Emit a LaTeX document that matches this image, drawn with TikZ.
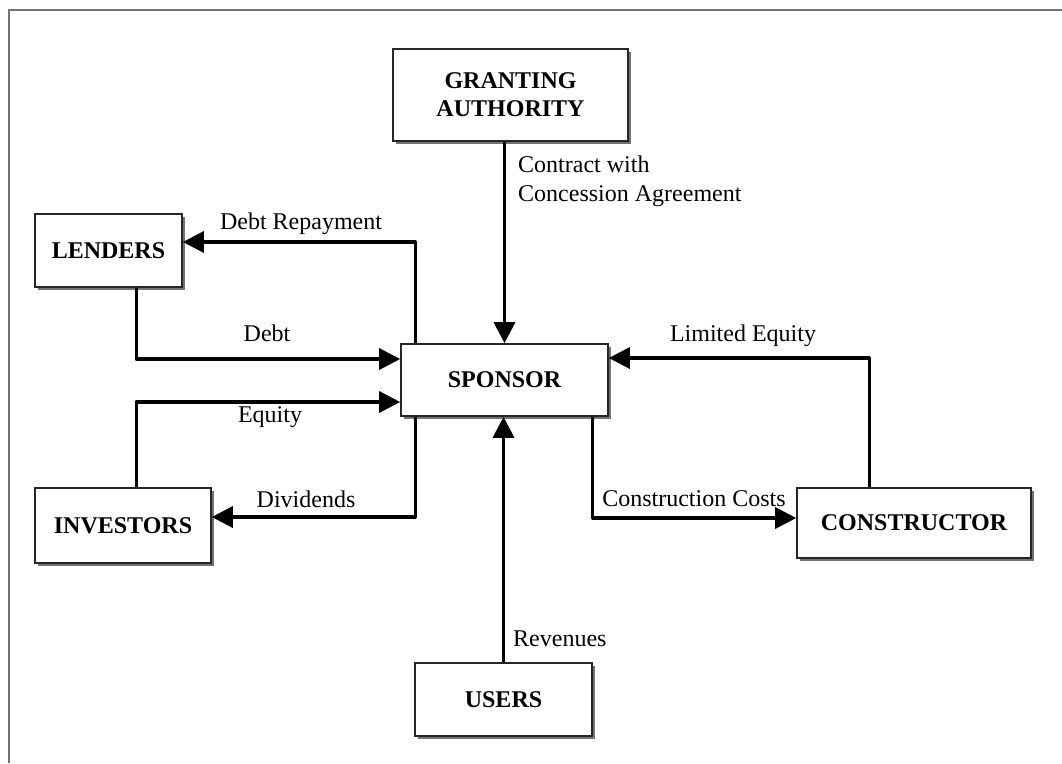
\documentclass[tikz,border=0pt]{standalone}
\usepackage{fontspec}
\setmainfont{Liberation Serif}
\usetikzlibrary{arrows.meta,calc,shadows}
\begin{document}
\begin{tikzpicture}[x=1pt,y=-1pt,
  box/.style={draw=black!85,line width=1.6pt,fill=white,align=center,
    font=\fontsize{24}{28}\selectfont\bfseries,inner sep=0pt,
    drop shadow={shadow xshift=3pt,shadow yshift=-3pt,fill=black!55,opacity=1}},
  arr/.style={line width=3.2pt,-{Triangle[length=21pt,width=21pt]},line join=round},
  lbl/.style={font=\fontsize{24}{30}\selectfont,inner sep=0pt,anchor=base}]
\useasboundingbox (0,0) rectangle (1062,763);
\draw[black!55,line width=2pt] (9,763) -- (9,10) -- (1062,10);

\node[box,minimum width=235pt,minimum height=92pt] (ga) at (510.5,95) {GRANTING\\AUTHORITY};
\node[box,minimum width=147pt,minimum height=73pt] (lenders) at (108.5,250.5) {LENDERS};
\node[box,minimum width=207pt,minimum height=72pt] (sponsor) at (504.5,380) {SPONSOR};
\node[box,minimum width=176pt,minimum height=75pt] (investors) at (123,525.5) {INVESTORS};
\node[box,minimum width=234pt,minimum height=70pt] (constructor) at (914,523) {CONSTRUCTOR};
\node[box,minimum width=177pt,minimum height=73pt] (users) at (503.5,699.5) {USERS};

\draw[arr] (ga.south -| sponsor.north) -- (sponsor.north);
\draw[arr] (users.north) -- (users.north |- sponsor.south);
\draw[arr] ($(sponsor.north west)+(15,0)$) |- ($(lenders.east)+(0,-8.5)$);
\draw[arr] ($(lenders.south west)+(102,0)$) |- ($(sponsor.west)+(0,-21)$);
\draw[arr] ($(investors.north west)+(102,0)$) |- ($(sponsor.west)+(0,22)$);
\draw[arr] ($(sponsor.south west)+(15,0)$) |- ($(investors.east)+(0,-8.5)$);
\draw[arr] ($(constructor.north west)+(73,0)$) |- ($(sponsor.east)+(0,-22)$);
\draw[arr] ($(sponsor.south east)+(-16,0)$) |- ($(constructor.west)+(0,-5)$);

\node[lbl,anchor=base west] (l1) at (518,172) {Contract with};
\node[lbl,anchor=base west] (l2) at (518,201) {Concession Agreement};
\node[lbl] (l3) at (301,229) {Debt Repayment};
\node[lbl] (l4) at (267,341) {Debt};
\node[lbl] (l5) at (270,422) {Equity};
\node[lbl] (l6) at (306,507) {Dividends};
\node[lbl] (l7) at (743,341) {Limited Equity};
\node[lbl] (l8) at (694,506) {Construction Costs};
\node[lbl,anchor=base west] (l9) at (513,646) {Revenues};
\end{tikzpicture}
\end{document}
